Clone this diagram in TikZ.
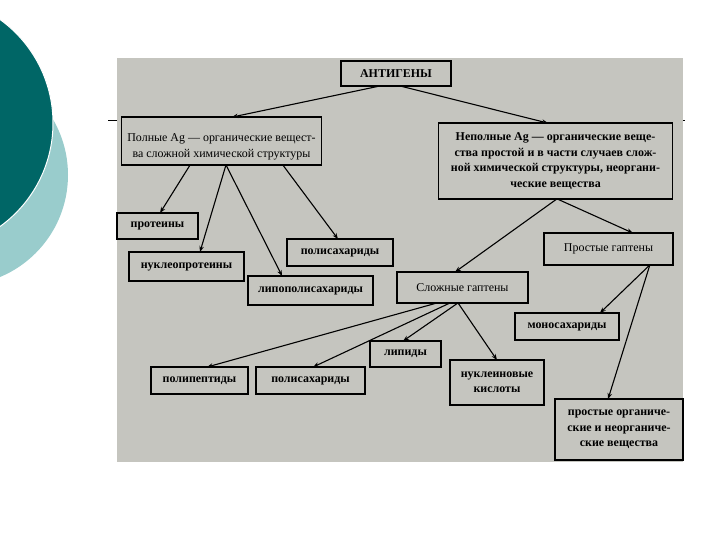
\documentclass[tikz,border=0pt]{standalone}
\usepackage{fontspec}
\setmainfont{Liberation Serif}
\usetikzlibrary{arrows.meta}
\definecolor{scangray}{RGB}{197,197,191}
\definecolor{darkteal}{RGB}{0,102,102}
\definecolor{lightteal}{RGB}{153,204,204}
\begin{document}
\begin{tikzpicture}[x=1bp, y=-1bp,
    box/.style={draw=black, line width=1.6bp, inner sep=0pt, outer sep=0pt, align=center,
        font=\fontsize{12}{15.5}\selectfont\bfseries},
    plainbox/.style={box, font=\fontsize{12}{15.5}\selectfont},
    arr/.style={-{Stealth[length=6bp,width=4.5bp]}, line width=1.1bp}]
        \useasboundingbox (0,0) rectangle (720,540);
        % slide decoration
        \fill[lightteal] (-42.5,175) circle (110.5);
        \filldraw[darkteal, draw=white, line width=1bp] (-74.6,123) circle (127.6);
        \draw[black, line width=0.8bp] (108,120) -- (685,120);
        \fill[scangray] (117,58) rectangle (683,462);

        \node[box, minimum width=110, minimum height=25] (ag) at (396,73.5) {АНТИГЕНЫ};
        \node[plainbox, minimum width=201, minimum height=48,
            label={[align=center, font=\fontsize{12}{15.5}\selectfont, yshift=-6]center:{Полные Ag — органические вещест-\\ва сложной химической структуры}}]
            (full) at (221.5,141) {};
        \node[box, minimum width=235, minimum height=76] (part) at (555.5,161)
            {Неполные Ag — органические веще-\\ства простой и в части случаев слож-\\ной химической структуры, неоргани-\\ческие вещества};

        \node[box, minimum width=81, minimum height=26] (prot) at (157.5,226) {протеины};
        \node[box, minimum width=115, minimum height=29] (nprot) at (186.5,266.5) {нуклеопротеины};
        \node[box, minimum width=106, minimum height=27] (psacA) at (340,252.5) {полисахариды};
        \node[box, minimum width=125, minimum height=29] (lps) at (310.5,290.5) {липополисахариды};

        \node[plainbox, minimum width=131, minimum height=31] (complex) at (462.5,287.5) {Сложные гаптены};
        \node[plainbox, minimum width=129, minimum height=32] (simple) at (608.5,249) {Простые гаптены};

        \node[box, minimum width=97, minimum height=27] (ppep) at (199.5,380.5) {полипептиды};
        \node[box, minimum width=109, minimum height=27] (psacB) at (310.5,380.5) {полисахариды};
        \node[box, minimum width=71, minimum height=26] (lip) at (405.5,354) {липиды};
        \node[box, minimum width=94, minimum height=45] (nucl) at (497,382.5) {нуклеиновые\\кислоты};
        \node[box, minimum width=104, minimum height=27] (mono) at (567,326.5) {моносахариды};
        \node[box, minimum width=128, minimum height=61] (inorg) at (619,429.5)
            {простые органиче-\\ские и неорганиче-\\ские вещества};

        \draw[arr] ([xshift=-16]ag.south) -- ([xshift=10.5]full.north);
        \draw[arr] ([xshift=4]ag.south) -- ([xshift=-7.5]part.north);

        \draw[arr] ([xshift=-31.5]full.south) -- ([xshift=2.5]prot.north);
        \draw[arr] ([xshift=4.5]full.south) -- ([xshift=13.5]nprot.north);
        \draw[arr] ([xshift=4.5]full.south) -- ([xshift=-28.5]lps.north);
        \draw[arr] ([xshift=61.5]full.south) -- ([xshift=-2]psacA.north);

        \draw[arr] ([xshift=1.5]part.south) -- ([xshift=-7.5]complex.north);
        \draw[arr] ([xshift=1.5]part.south) -- ([xshift=24.5]simple.north);

        \draw[arr] ([xshift=41.5]simple.south) -- ([xshift=33]mono.north);
        \draw[arr] ([xshift=41.5]simple.south) -- ([xshift=-11]inorg.north);

        \draw[arr] ([xshift=-25.5]complex.south) -- ([xshift=7.5]ppep.north);
        \draw[arr] ([xshift=-12.5]complex.south) -- ([xshift=2.5]psacB.north);
        \draw[arr] ([xshift=-4.5]complex.south) -- ([xshift=-2.5]lip.north);
        \draw[arr] ([xshift=-4.5]complex.south) -- (nucl.north);
    \end{tikzpicture}
\end{document}
